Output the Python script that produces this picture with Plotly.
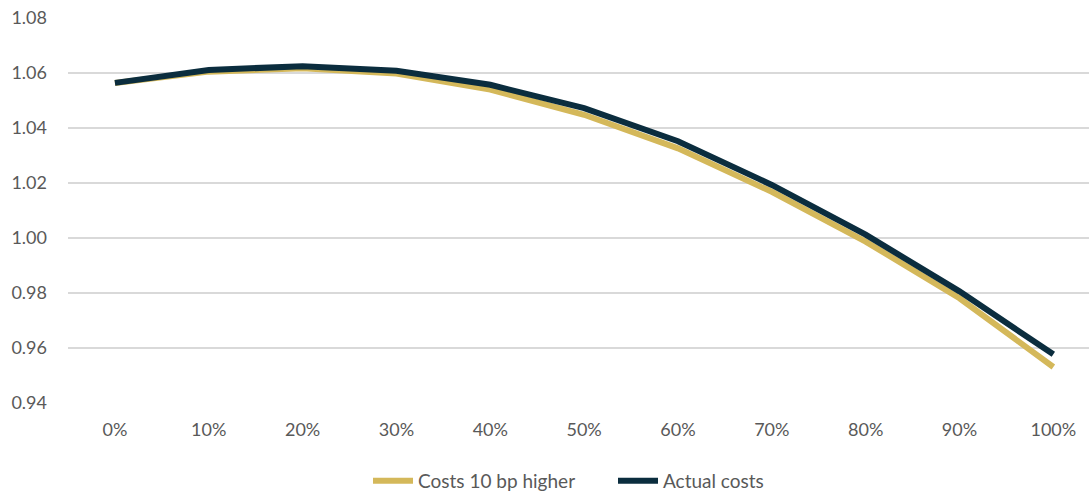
import plotly.graph_objects as go

shares = ["0%", "10%", "20%", "30%", "40%", "50%", "60%", "70%", "80%", "90%", "100%"]
costs_higher = [1.0564, 1.0605, 1.0617, 1.0598, 1.0540, 1.0448, 1.0326, 1.0168, 0.9987, 0.9781, 0.9531]
actual_costs = [1.0564, 1.0611, 1.0625, 1.0608, 1.0557, 1.0472, 1.0352, 1.0193, 1.0012, 0.9806, 0.9577]

GOLD = "#D4B85A"
NAVY = "#0B2D3E"
TEXT = "#595959"

fig = go.Figure()
fig.add_trace(go.Scatter(x=list(range(len(shares))), y=costs_higher, mode="lines",
                         name="Costs 10 bp higher",
                         line=dict(color=GOLD, width=6)))
fig.add_trace(go.Scatter(x=list(range(len(shares))), y=actual_costs, mode="lines",
                         name="Actual costs",
                         line=dict(color=NAVY, width=6)))

fig.update_layout(
    width=1089, height=492,
    margin=dict(l=68, r=0, t=18, b=89),
    paper_bgcolor="white", plot_bgcolor="white",
    font=dict(family="Lato, 'Open Sans', sans-serif", size=18, color=TEXT),
    showlegend=True,
    legend=dict(orientation="h", xref="container", x=368 / 1089, xanchor="left",
                yref="container", y=1 - 481 / 492, yanchor="middle",
                entrywidth=190, entrywidthmode="pixels",
                font=dict(size=19, color=TEXT), itemwidth=40, traceorder="normal"),
    xaxis=dict(tickmode="array", tickvals=list(range(len(shares))), ticktext=shares,
               range=[-0.5, 10.38], showgrid=False, zeroline=False, showline=False,
               ticks="", ticklabelstandoff=14),
    yaxis=dict(range=[0.94, 1.08], dtick=0.02, tickformat=".2f",
               showgrid=True, gridcolor="#D9D9D9", gridwidth=1.5,
               zeroline=False, showline=False, ticks="", ticklabelstandoff=20),
)

fig.write_html("out.html")
